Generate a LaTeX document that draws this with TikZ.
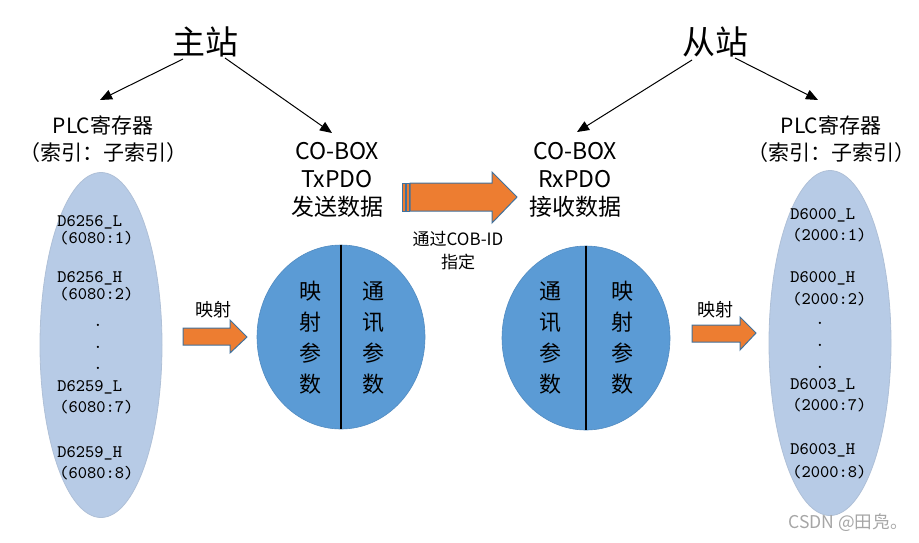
\documentclass[tikz,border=0pt]{standalone}
\usepackage{fontspec}
\setmainfont{Noto Sans CJK SC}
\usetikzlibrary{calc, arrows.meta, positioning, shapes.geometric}
\definecolor{regblue}{HTML}{B7CBE6}
\definecolor{pdoblue}{HTML}{5B9BD5}
\definecolor{maporange}{HTML}{ED7D31}
\definecolor{edgeblue}{HTML}{41719C}

\begin{document}
\begin{tikzpicture}[x=0.5pt, y=-0.5pt,
    link/.style={-{Triangle[length=6pt, width=5pt]}, line width=0.5pt},
    regs/.style={ellipse, fill=regblue, draw=regblue!85!gray, line width=0.4pt, minimum width=61pt, minimum height=172.5pt, inner sep=0pt},
    pdo/.style={ellipse, fill=pdoblue, draw=pdoblue!90!black, line width=0.3pt, minimum width=84pt, minimum height=92pt, inner sep=0pt},
    blockarrow/.style={fill=maporange, draw=edgeblue, line width=0.5pt},
    reg/.style={font=\ttfamily\fontsize{8.8}{10}\selectfont, anchor=west, inner sep=0pt},
    vtext/.style={align=center, font=\fontsize{11}{15.5}\selectfont, inner sep=0pt}]
  \useasboundingbox (0,0) rectangle (919,542);

  % stations
  \node[font=\fontsize{16.5}{18}\selectfont] (master) at (205,42) {主站};
  \node[font=\fontsize{16.5}{18}\selectfont] (slave) at (715,42) {从站};

  % headings
  \node[align=center, font=\fontsize{10.5}{13.5}\selectfont] (plcL) at (103,139) {PLC寄存器\\（索引：子索引）};
  \node[align=center, font=\fontsize{10.5}{13.5}\selectfont] (plcR) at (831,139) {PLC寄存器\\（索引：子索引）};
  \node[align=center, font=\fontsize{11.5}{14}\selectfont] (txbox) at (337,180) {CO-BOX\\TxPDO\\发送数据};
  \node[align=center, font=\fontsize{11.5}{14}\selectfont] (rxbox) at (575,180) {CO-BOX\\RxPDO\\接收数据};

  \draw[link] ($(master)+(-22,17)$) -- ($(plcL)+(-3,-39)$);
  \draw[link] ($(master)+(20,16)$) -- ($(txbox)+(-5,-47)$);
  \draw[link] ($(slave)+(-23,18)$) -- ($(rxbox)+(2,-48)$);
  \draw[link] ($(slave)+(20,16)$) -- ($(plcR)+(-13,-39)$);

  % register ellipses
  \node[regs] (regL) at (101,345) {};
  \node[regs] (regR) at (830,343) {};
  \foreach \x/\y/\t in {57/222/D6256\_L, 59/238/(6080:1), 57/278/D6256\_H, 59/294/(6080:2),
      57/387/D6259\_L, 59/407/(6080:7), 57/453/D6259\_H, 59/473/(6080:8),
      790/215/D6000\_L, 792/235/(2000:1), 790/278/D6000\_H, 792/299/(2000:2),
      790/385/D6003\_L, 792/405/(2000:7), 790/450/D6003\_H, 792/472/(2000:8)}
    \node[reg] at (\x,\y) {\t};
  \foreach \y in {325,347,368} \node[reg, anchor=center] at (98,\y) {.};
  \foreach \y in {323,345,367} \node[reg, anchor=center] at (820,\y) {.};

  % PDO circles
  \node[pdo] (circL) at (341,337) {};
  \node[pdo] (circR) at (586,338) {};
  \draw[line width=0.6pt] (circL.north) -- (circL.south);
  \draw[line width=0.6pt] (circR.north) -- (circR.south);
  \node[vtext] (mapparL) at (310,338) {映\\射\\参\\数};
  \node[vtext] (comparL) at (373,338) {通\\讯\\参\\数};
  \node[vtext] (comparR) at (550,338) {通\\讯\\参\\数};
  \node[vtext] (mapparR) at (622,338) {映\\射\\参\\数};

  % mapping arrows
  \draw[blockarrow] (183,328) -- (230,328) -- (230,320) -- (247,337) -- (230,353) -- (230,345) -- (183,345) -- cycle;
  \node[font=\fontsize{9}{11}\selectfont] (mapL) at (213,310) {映射};
  \draw[blockarrow] (692,325) -- (740,325) -- (740,317) -- (756,333) -- (740,350) -- (740,342) -- (692,342) -- cycle;
  \node[font=\fontsize{9}{11}\selectfont] (mapR) at (715,310) {映射};

  % PDO transfer
  \draw[blockarrow] (402,183) rectangle (405,211);
  \draw[blockarrow] (406,183) rectangle (409,211);
  \draw[blockarrow] (410,183) -- (492,183) -- (492,172) -- (517,197) -- (492,223) -- (492,211) -- (410,211) -- cycle;
  \node[align=center, font=\fontsize{8.5}{11.5}\selectfont] (cobid) at (458,251) {通过COB-ID\\指定};

  \node[text=black!35, font=\fontsize{8.8}{10}\selectfont] (mark) at (848,523) {CSDN @田凫。};
\end{tikzpicture}
\end{document}
